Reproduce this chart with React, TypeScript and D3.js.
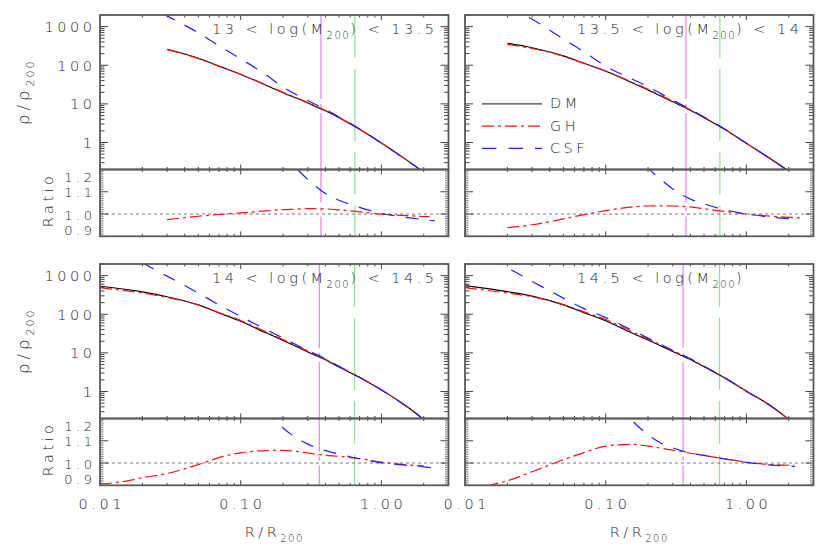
import React from 'react';
import * as d3 from 'd3';

// ---------- data ----------
const MAIN_R = [0.01, 0.015, 0.02, 0.03, 0.05, 0.07, 0.1, 0.15, 0.2, 0.3, 0.4, 0.5, 0.7, 1.0, 1.5, 2.0, 2.5];

const DM_TL = [null, null, null, 260, 152, 95, 58, 31, 19.5, 10.5, 6.6, 4.4, 2.2, 0.97, 0.36, 0.17, 0.09];
const GH_TL = [null, null, null, 253, 150, 95, 58.3, 31.4, 19.9, 10.8, 6.75, 4.48, 2.22, 0.97, 0.357, 0.168, 0.089];
const CSF_TL = [null, null, 4300, 1900, 690, 320, 147, 58, 27, 12.2, 7.2, 4.6, 2.25, 0.97, 0.355, 0.166, 0.087];

const DM_TR = [null, null, 370, 285, 175, 112, 70, 37, 23, 11.3, 6.8, 4.4, 2.2, 0.95, 0.37, 0.18, 0.095];
const GH_TR = [null, null, 347, 271, 171, 112, 71, 38.1, 23.8, 11.7, 7.0, 4.5, 2.23, 0.95, 0.366, 0.177, 0.093];
const CSF_TR = [null, null, 3200, 1550, 480, 225, 95, 46, 28, 12.5, 7.2, 4.6, 2.24, 0.95, 0.365, 0.176, 0.093];

const DM_BL = [530, null, 380, 285, 175, 108, 66, 33.5, 21, 10.6, 6.6, 4.3, 2.3, 1.1, 0.42, 0.19, 0.1];
const GH_BL = [485, null, 355, 272, 174, 110.6, 69, 35.4, 22.2, 11.1, 6.83, 4.43, 2.35, 1.1, 0.417, 0.188, 0.099];
const CSF_BL = [null, null, 2150, 970, 352, 176, 88, 41, 24.3, 11.5, 7.0, 4.47, 2.34, 1.1, 0.416, 0.187, 0.098];

const DM_BR = [550, null, 385, 295, 175, 110, 68, 34, 21.5, 10.8, 6.7, 4.35, 2.25, 1.02, 0.42, 0.19, 0.1];
const GH_BR = [485, null, 354, 284, 178, 115, 73, 36.9, 23.1, 11.4, 7.0, 4.5, 2.29, 1.02, 0.417, 0.188, 0.099];
const CSF_BR = [null, 2700, 1600, 710, 262, 140, 82, 40.5, 24.2, 11.5, 7.0, 4.5, 2.29, 1.02, 0.416, 0.187, 0.098];

const RATIO_R = [0.01, 0.015, 0.02, 0.03, 0.05, 0.07, 0.1, 0.15, 0.2, 0.25, 0.3, 0.4, 0.5, 0.7, 1.0, 1.5, 2.0, 2.2, 2.4];

const GH_RATIO_TL = [null, null, null, 0.975, 0.99, 0.998, 1.005, 1.014, 1.02, 1.022, 1.024, 1.023, 1.019, 1.01, 1.0, 0.993, 0.989, 0.988, null];
const CSF_RATIO_TL = [null, null, null, null, null, null, null, null, 1.28, 1.205, 1.155, 1.092, 1.062, 1.03, 1.003, 0.985, 0.975, 0.972, 0.97];

const GH_RATIO_TR = [null, null, 0.939, 0.952, 0.978, 0.997, 1.015, 1.031, 1.036, 1.037, 1.036, 1.032, 1.024, 1.012, 1.0, 0.99, 0.985, 0.984, 0.983];
const CSF_RATIO_TR = [null, null, null, null, null, null, null, 1.3, 1.207, 1.152, 1.112, 1.067, 1.046, 1.019, 1.001, 0.986, 0.979, null, null];

const GH_RATIO_BL = [0.905, 0.918, 0.934, 0.953, 0.993, 1.024, 1.046, 1.056, 1.057, 1.052, 1.045, 1.035, 1.03, 1.02, 1.004, 0.992, 0.987, null, null];
const CSF_RATIO_BL = [null, null, null, null, null, null, null, 1.24, 1.157, 1.112, 1.085, 1.056, 1.04, 1.019, 1.001, 0.99, 0.983, 0.98, 0.978];

const GH_RATIO_BR = [0.86, 0.9, 0.92, 0.961, 1.015, 1.047, 1.076, 1.084, 1.076, 1.066, 1.058, 1.044, 1.034, 1.019, 1.004, 0.993, 0.99, 0.99, null];
const CSF_RATIO_BR = [null, null, null, null, null, null, 1.36, 1.2, 1.127, 1.088, 1.068, 1.045, 1.034, 1.019, 1.003, 0.991, 0.986, 0.984, null];

const TITLE_PRE = ['13 < log(M', '13.5 < log(M', '14 < log(M', '14.5 < log(M'];
const TITLE_POST = [') < 13.5', ') < 14', ') < 14.5', ')'];

const VLINE_MAGENTA = [0.372, 0.372, 0.362, 0.355];
const VLINE_GREEN = [0.648, 0.648, 0.645, 0.645];

const LEGEND_LABELS = ['DM', 'GH', 'CSF'];

const X_TICKS = [0.01, 0.1, 1];
const X_TICK_LABELS = ['0.01', '0.10', '1.00'];
const Y_MAIN_TICKS = [1, 10, 100, 1000];
const Y_MAIN_LABELS = ['1', '10', '100', '1000'];
const Y_RATIO_TICKS = [0.9, 1.0, 1.1, 1.2];
const Y_RATIO_LABELS = ['0.9', '1.0', '1.1', '1.2'];

// ---------- layout / style ----------
const LEFTS = [100, 465];
const TOPS = [15, 264];
const W = 348.5;
const MAIN_H = 154.5;
const RATIO_H = 66.8;

const TEXT = '#262626';
const FRAME = '#5a5a5a';
const FS = 14.5;
const LS = 3.5;
const FW = 200;

const DM_COLOR = '#000000';
const GH_COLOR = '#ff1010';
const CSF_COLOR = '#2020ff';
const MAG = '#e882e8';
const GRN = '#86ec86';

const GH_DASH = '12,4,3,4';
const CSF_DASH = '13,11';

function pairs(rs: number[], vs: (number | null)[]): [number, number][] {
  const out: [number, number][] = [];
  rs.forEach((r, i) => {
    const v = vs[i];
    if (v !== null && v !== undefined) out.push([r, v]);
  });
  return out;
}

type PanelProps = {
  idx: number;
  col: number;
  row: number;
  dm: (number | null)[];
  gh: (number | null)[];
  csf: (number | null)[];
  ghR: (number | null)[];
  csfR: (number | null)[];
};

function Panel({ idx, col, row, dm, gh, csf, ghR, csfR }: PanelProps) {
  const left = LEFTS[col];
  const right = left + W;
  const top = TOPS[row];
  const mBot = top + MAIN_H;
  const rTop = mBot;
  const rBot = rTop + RATIO_H;

  const x = d3.scaleLog().domain([0.01, 3]).range([left, right]);
  const yM = d3.scaleLog().domain([0.2, 2000]).range([mBot, top]);
  const yR = d3.scaleLinear().domain([0.9, 1.2]).range([rBot, rTop]);

  const lineM = d3
    .line<[number, number]>()
    .x((d) => x(d[0]))
    .y((d) => yM(d[1]))
    .curve(d3.curveMonotoneX);
  const lineR = d3
    .line<[number, number]>()
    .x((d) => x(d[0]))
    .y((d) => yR(d[1]))
    .curve(d3.curveMonotoneX);

  const xMinor: number[] = [];
  [0.01, 0.1, 1].forEach((dec) => {
    for (let k = 2; k <= 9; k++) {
      const v = k * dec;
      if (v <= 3.0001) xMinor.push(v);
    }
  });
  const yMinor: number[] = [];
  [0.1, 1, 10, 100, 1000].forEach((dec) => {
    for (let k = 2; k <= 9; k++) {
      const v = k * dec;
      if (v >= 0.2 - 1e-9 && v <= 2000 + 1e-9) yMinor.push(v);
    }
  });
  const rMinor: number[] = [];
  for (let i = 0; i <= 30; i++) {
    const v = 0.9 + i * 0.01;
    if (i % 10 !== 0) rMinor.push(v);
  }

  const clipM = `clipM${idx}`;
  const clipR = `clipR${idx}`;
  const showYLabels = col === 0;
  const showXLabels = row === 1;

  const xTickLines = (yEdge: number, dir: number, keyp: string) => (
    <g key={keyp}>
      {X_TICKS.map((v) => (
        <line key={'M' + v} x1={x(v)} x2={x(v)} y1={yEdge} y2={yEdge + dir * 5} stroke="#444" strokeWidth={1} />
      ))}
      {xMinor.map((v) => (
        <line key={'m' + v} x1={x(v)} x2={x(v)} y1={yEdge} y2={yEdge + dir * 2.5} stroke="#444" strokeWidth={1} />
      ))}
    </g>
  );

  const mPts = (arr: (number | null)[]) => pairs(MAIN_R, arr);
  const rPts = (arr: (number | null)[]) => pairs(RATIO_R, arr);

  return (
    <g>
      <defs>
        <clipPath id={clipM}>
          <rect x={left} y={top} width={W} height={MAIN_H} />
        </clipPath>
        <clipPath id={clipR}>
          <rect x={left} y={rTop} width={W} height={RATIO_H} />
        </clipPath>
      </defs>

      <line x1={x(VLINE_MAGENTA[idx])} x2={x(VLINE_MAGENTA[idx])} y1={top} y2={mBot} stroke={MAG} strokeWidth={1.2} strokeDasharray="84,5,4,5" strokeDashoffset={0} />
      <line x1={x(VLINE_GREEN[idx])} x2={x(VLINE_GREEN[idx])} y1={top} y2={mBot} stroke={GRN} strokeWidth={1.2} strokeDasharray="72,11" strokeDashoffset={29} />
      <line x1={x(VLINE_MAGENTA[idx])} x2={x(VLINE_MAGENTA[idx])} y1={rTop} y2={rBot} stroke={MAG} strokeWidth={1.2} strokeDasharray="84,5,4,5" strokeDashoffset={51} />
      <line x1={x(VLINE_GREEN[idx])} x2={x(VLINE_GREEN[idx])} y1={rTop} y2={rBot} stroke={GRN} strokeWidth={1.2} strokeDasharray="72,11" strokeDashoffset={46.7} />

      <line x1={left} x2={right} y1={yR(1)} y2={yR(1)} stroke="#777" strokeWidth={1} strokeDasharray="3,3" />

      <g clipPath={`url(#${clipM})`} fill="none">
        <path d={lineM(mPts(dm)) || ''} stroke={DM_COLOR} strokeWidth={1.1} />
        <path d={lineM(mPts(gh)) || ''} stroke={GH_COLOR} strokeWidth={1.2} strokeDasharray={GH_DASH} />
        <path d={lineM(mPts(csf)) || ''} stroke={CSF_COLOR} strokeWidth={1.2} strokeDasharray={CSF_DASH} />
      </g>
      <g clipPath={`url(#${clipR})`} fill="none">
        <path d={lineR(rPts(ghR)) || ''} stroke={GH_COLOR} strokeWidth={1.2} strokeDasharray={GH_DASH} />
        <path d={lineR(rPts(csfR)) || ''} stroke={CSF_COLOR} strokeWidth={1.2} strokeDasharray={CSF_DASH} />
      </g>

      {xTickLines(top, 1, 'xt1')}
      {xTickLines(mBot, -1, 'xt2')}
      {xTickLines(rTop, 1, 'xt3')}
      {xTickLines(rBot, -1, 'xt4')}

      {Y_MAIN_TICKS.map((v) => (
        <g key={'ym' + v}>
          <line x1={left} x2={left + 8} y1={yM(v)} y2={yM(v)} stroke="#444" />
          <line x1={right} x2={right - 8} y1={yM(v)} y2={yM(v)} stroke="#444" />
        </g>
      ))}
      {yMinor.map((v) => (
        <g key={'ymm' + v}>
          <line x1={left} x2={left + 4.5} y1={yM(v)} y2={yM(v)} stroke="#444" />
          <line x1={right} x2={right - 4.5} y1={yM(v)} y2={yM(v)} stroke="#444" />
        </g>
      ))}
      {Y_RATIO_TICKS.map((v) => (
        <g key={'yr' + v}>
          <line x1={left} x2={left + 8} y1={yR(v)} y2={yR(v)} stroke="#444" />
          <line x1={right} x2={right - 8} y1={yR(v)} y2={yR(v)} stroke="#444" />
        </g>
      ))}
      {rMinor.map((v) => (
        <g key={'yrm' + v.toFixed(2)}>
          <line x1={left} x2={left + 3.5} y1={yR(v)} y2={yR(v)} stroke="#555" strokeWidth={0.8} />
          <line x1={right} x2={right - 3.5} y1={yR(v)} y2={yR(v)} stroke="#555" strokeWidth={0.8} />
        </g>
      ))}

      <rect x={left} y={top} width={W} height={MAIN_H} fill="none" stroke={FRAME} strokeWidth={1.8} />
      <rect x={left} y={rTop} width={W} height={RATIO_H} fill="none" stroke={FRAME} strokeWidth={1.8} />

      <text x={left + 112} y={top + 19} fontSize={FS} letterSpacing={LS} fill={TEXT} fontWeight={FW}>
        {TITLE_PRE[idx]}
        <tspan dy={5} fontSize={10} letterSpacing={1.5}>200</tspan>
        <tspan dy={-5}>{TITLE_POST[idx]}</tspan>
      </text>

      {showYLabels && (
        <g fontSize={FS} letterSpacing={LS} fill={TEXT} fontWeight={FW}>
          {Y_MAIN_TICKS.map((v, i) => (
            <text key={'yl' + v} x={left - 8 + LS} y={yM(v) + 5.5} textAnchor="end">
              {Y_MAIN_LABELS[i]}
            </text>
          ))}
          {Y_RATIO_TICKS.map((v, i) => (
            <text
              key={'yrl' + v}
              x={left - 8 + LS}
              y={Math.min(Math.max(yR(v) + 5.5, rTop + 12.5), rBot - 1)}
              textAnchor="end"
              fontSize={13}
            >
              {Y_RATIO_LABELS[i]}
            </text>
          ))}
          <text transform={`translate(29, ${(top + mBot) / 2}) rotate(-90)`} textAnchor="middle" fontSize={16.5} letterSpacing={4}>
            ρ/ρ<tspan dy={5} fontSize={11} letterSpacing={2}>200</tspan>
          </text>
          <text transform={`translate(53, ${(rTop + rBot) / 2 - 3}) rotate(-90)`} textAnchor="middle">
            Ratio
          </text>
        </g>
      )}

      {showXLabels && (
        <g fontSize={FS} letterSpacing={LS} fill={TEXT} fontWeight={FW}>
          {X_TICKS.map((v, i) => (
            <text key={'xl' + v} x={x(v) + LS / 2} y={rBot + 24} textAnchor="middle">
              {X_TICK_LABELS[i]}
            </text>
          ))}
          <text x={(left + right) / 2} y={rBot + 52} textAnchor="middle">
            R/R<tspan dy={5} fontSize={10} letterSpacing={1.5}>200</tspan>
          </text>
        </g>
      )}

      {idx === 1 && (
        <g>
          {LEGEND_LABELS.map((lab, i) => {
            const by = top + 93.3 + i * 22.3;
            const color = i === 0 ? DM_COLOR : i === 1 ? GH_COLOR : CSF_COLOR;
            const dash = i === 0 ? undefined : i === 1 ? GH_DASH : '14.5,12';
            return (
              <g key={lab}>
                <line x1={left + 17} x2={left + 77} y1={by - 4.5} y2={by - 4.5} stroke={i === 0 ? '#444' : color} strokeWidth={1.2} strokeDasharray={dash} />
                <text x={left + 85} y={by} fontSize={FS} letterSpacing={LS} fill={TEXT} fontWeight={FW}>
                  {lab}
                </text>
              </g>
            );
          })}
        </g>
      )}
    </g>
  );
}

export default function App() {
  const panels: PanelProps[] = [
    { idx: 0, col: 0, row: 0, dm: DM_TL, gh: GH_TL, csf: CSF_TL, ghR: GH_RATIO_TL, csfR: CSF_RATIO_TL },
    { idx: 1, col: 1, row: 0, dm: DM_TR, gh: GH_TR, csf: CSF_TR, ghR: GH_RATIO_TR, csfR: CSF_RATIO_TR },
    { idx: 2, col: 0, row: 1, dm: DM_BL, gh: GH_BL, csf: CSF_BL, ghR: GH_RATIO_BL, csfR: CSF_RATIO_BL },
    { idx: 3, col: 1, row: 1, dm: DM_BR, gh: GH_BR, csf: CSF_BR, ghR: GH_RATIO_BR, csfR: CSF_RATIO_BR },
  ];
  return (
    <svg
      width={830}
      height={552}
      viewBox="0 0 830 552"
      style={{ position: 'absolute', left: 0, top: 0, background: '#fff' }}
      fontFamily="'DejaVu Sans', sans-serif"
    >
      <rect x={0} y={0} width={830} height={552} fill="#fff" />
      {panels.map((p) => (
        <Panel key={p.idx} {...p} />
      ))}
    </svg>
  );
}
